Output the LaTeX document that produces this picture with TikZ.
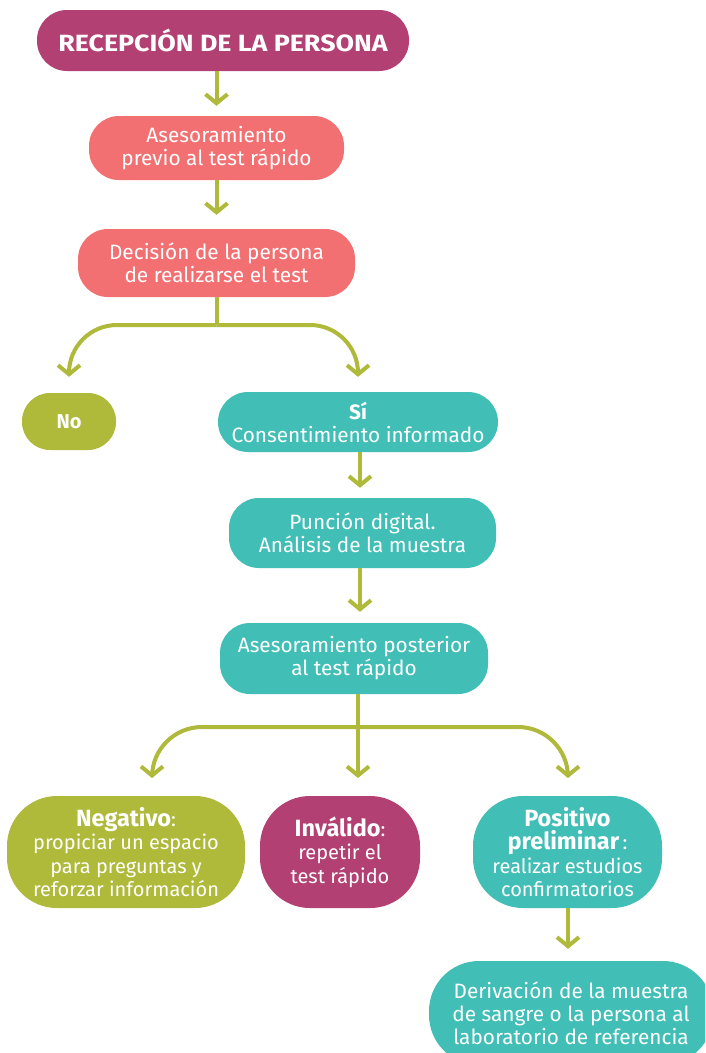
\documentclass[tikz,border=0pt]{standalone}
\usepackage{fontspec}
\setmainfont{Fira Sans}
\newfontfamily\titlefont[FakeStretch=1.14]{Fira Sans}
\usetikzlibrary{arrows.meta}
\definecolor{cmag}{HTML}{B34072}
\definecolor{csal}{HTML}{F27072}
\definecolor{colive}{HTML}{AFB93A}
\definecolor{cteal}{HTML}{41BEB6}
\newcommand{\headword}[1]{{\bfseries\fontsize{23.5}{24}\selectfont #1}}
\begin{document}
\begin{tikzpicture}[x=1pt,y=-1pt,
  pill/.style={rounded corners=#1, text=white, align=center, inner sep=0pt,
    font=\fontsize{20.8}{23}\selectfont},
  pill/.default=30,
  cond/.style={font=\fontsize{20}{23.5}\selectfont},
  arr/.style={draw=colive, line width=4pt, -{Straight Barb[length=9pt,width=22pt]}},
  ln/.style={draw=colive, line width=4pt}]
\useasboundingbox (0,0) rectangle (705,1053);
\fill[white] (0,0) rectangle (705,1053);

\node[pill, fill=cmag, minimum width=372, minimum height=61,
  font=\titlefont\bfseries\fontsize{23.5}{26}\selectfont] (rec) at (223,40.5) {RECEPCIÓN DE LA PERSONA};
\node[pill, fill=csal, minimum width=255, minimum height=64] (ase) at (216.5,148)
  {Asesoramiento\\previo al test rápido};
\node[pill, fill=csal, minimum width=277, minimum height=68] (dec) at (216.5,263)
  {Decisión de la persona\\de realizarse el test};
\node[pill=28, fill=colive, minimum width=94, minimum height=57,
  font=\bfseries\fontsize{20}{23}\selectfont] (no) at (69,421.5) {No};
\node[pill, fill=cteal, minimum width=280, minimum height=60] (si) at (358,422)
  {\textbf{Sí}\\Consentimiento informado};
\node[pill, fill=cteal, minimum width=267, minimum height=70] (pun) at (362.5,533)
  {Punción digital.\\Análisis de la muestra};
\node[pill, fill=cteal, minimum width=268, minimum height=71] (post) at (354,658.5)
  {Asesoramiento posterior\\al test rápido};
\node[pill=50, fill=colive, minimum width=238, minimum height=112, cond] (neg) at (126,852)
  {\headword{Negativo}:\\propiciar un espacio\\para preguntas y\\reforzar información};
\node[pill=50, fill=cmag, minimum width=160, minimum height=112, cond] (inv) at (340,852)
  {\headword{Inválido}:\\repetir el\\test rápido};
\node[pill=50, fill=cteal, minimum width=189, minimum height=112, cond] (pos) at (567.5,852)
  {\headword{Positivo}\\\headword{preliminar}\,:\\realizar estudios\\confirmatorios};
\begin{scope}
\clip (0,0) rectangle (705,1053);
\node[pill=50, fill=cteal, minimum width=284, minimum height=104] (der) at (571,1013)
  {Derivación de la muestra\\de sangre o la persona al\\laboratorio de referencia};
\end{scope}

% connectors
\draw[arr, shorten >=10pt] (ase.north |- rec.south) -- (ase.north);
\draw[arr, shorten >=14pt] (ase.south) -- (dec.north);

\coordinate (j1) at (216.5,325);
\draw[ln] (dec.south) -- (j1);
\draw[arr, rounded corners=48, shorten >=16pt] (j1) -| (no.north);
\draw[arr, rounded corners=48, shorten >=15pt] (j1) -| (si.north);

\draw[arr, shorten >=10pt] (si.south -| 360,0) -- (pun.north -| 360,0);
\draw[arr, shorten >=11pt] (pun.south -| 360,0) -- (post.north -| 360,0);

\coordinate (j2) at (358,727);
\coordinate (tneg) at (152,778);
\coordinate (tinv) at (358,778);
\coordinate (tpos) at (568,778);
\draw[ln] (post.south -| j2) -- (j2);
\draw[arr, rounded corners=50] (j2) -| (tneg);
\draw[arr] (j2) -- (tinv);
\draw[arr, rounded corners=50] (j2) -| (tpos);

\draw[arr, shorten >=12pt] (pos.south -| 568,0) -- (der.north -| 568,0);
\end{tikzpicture}
\end{document}
